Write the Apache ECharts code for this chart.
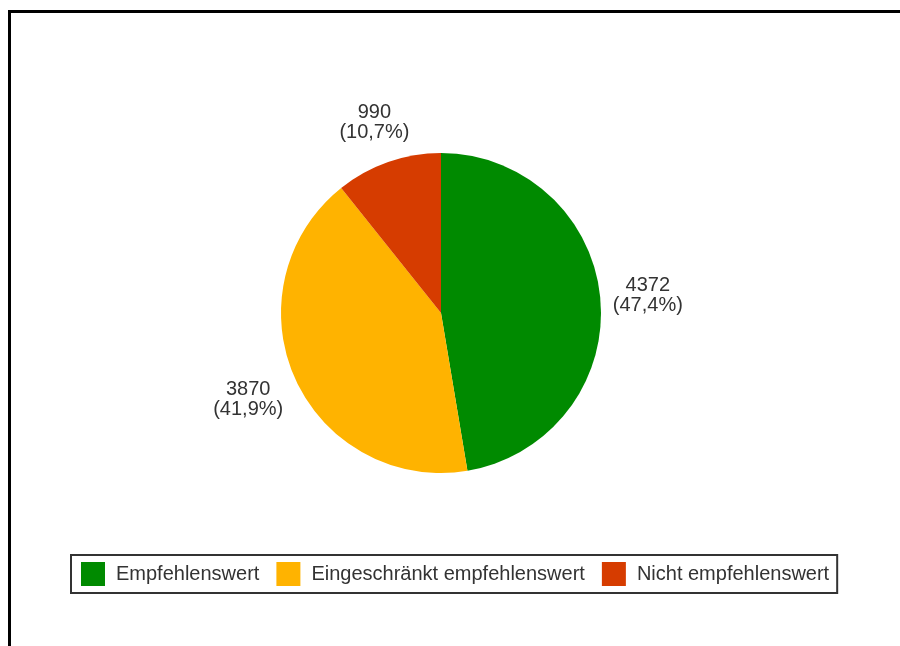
<!DOCTYPE html>
<html>
<head>
<meta charset="utf-8">
<script src="https://cdn.jsdelivr.net/npm/echarts@6/dist/echarts.min.js"></script>
<style>
  html, body { margin: 0; padding: 0; background: #fff; }
  #chart { width: 900px; height: 646px; }
</style>
</head>
<body>
<div id="chart"></div>
<script>
// Rating distribution
const categories = ['Empfehlenswert', 'Eingeschränkt empfehlenswert', 'Nicht empfehlenswert'];
const values = [4372, 3870, 990];
const colors = ['#008a00', '#ffb300', '#d63c00'];

const PIE_CX = 441, PIE_CY = 313, PIE_R = 160, LABEL_GAP = 11;
const total = values.reduce((a, b) => a + b, 0);

function fmtPercent(p) {
  return p.toFixed(1).replace('.', ',') + '%';
}

// Mid-angle of each slice (clockwise from 12 o'clock), used to place labels on the ray
function midDirection(i) {
  let before = 0;
  for (let k = 0; k < i; k++) before += values[k];
  const frac = (before + values[i] / 2) / total;
  const a = frac * Math.PI * 2;
  return [Math.sin(a), -Math.cos(a)];
}

const chart = echarts.init(document.getElementById('chart'), null, { renderer: 'canvas' });

chart.setOption({
  backgroundColor: '#ffffff',
  animation: false,
  color: colors,
  graphic: [{
    type: 'rect',
    shape: { x: 9.5, y: 11.5, width: 1000, height: 1000 },
    style: { fill: 'none', stroke: '#000', lineWidth: 3 },
    silent: true
  }],
  legend: {
    data: categories,
    left: 71,
    top: 555,
    orient: 'horizontal',
    itemWidth: 24,
    itemHeight: 24,
    itemGap: 17,
    icon: 'rect',
    padding: [7, 8, 7, 10],
    borderColor: '#333',
    borderWidth: 2,
    textStyle: {
      fontFamily: 'Liberation Sans, Arial, sans-serif',
      fontSize: 20,
      color: '#333',
      padding: [0, 0, 0, 6]
    },
    selectedMode: false
  },
  series: [{
    type: 'pie',
    center: [PIE_CX, PIE_CY],
    radius: PIE_R,
    startAngle: 90,
    clockwise: true,
    avoidLabelOverlap: false,
    percentPrecision: 1,
    itemStyle: { borderWidth: 0 },
    label: {
      show: true,
      position: 'outside',
      fontFamily: 'Liberation Sans, Arial, sans-serif',
      fontSize: 20,
      lineHeight: 20,
      color: '#333',
      formatter: p => p.value + '\n(' + fmtPercent(p.value / total * 100) + ')'
    },
    labelLine: { show: false },
    labelLayout: function (params) {
      const d = midDirection(params.dataIndex);
      const w = params.labelRect.width, h = params.labelRect.height;
      const t = PIE_R + LABEL_GAP + Math.abs(d[0]) * w / 2 + Math.abs(d[1]) * h / 2;
      return {
        x: PIE_CX + d[0] * t,
        y: PIE_CY + d[1] * t,
        align: 'center',
        verticalAlign: 'middle'
      };
    },
    emphasis: { disabled: true },
    data: categories.map((name, i) => ({ name: name, value: values[i] }))
  }]
});
</script>
</body>
</html>
